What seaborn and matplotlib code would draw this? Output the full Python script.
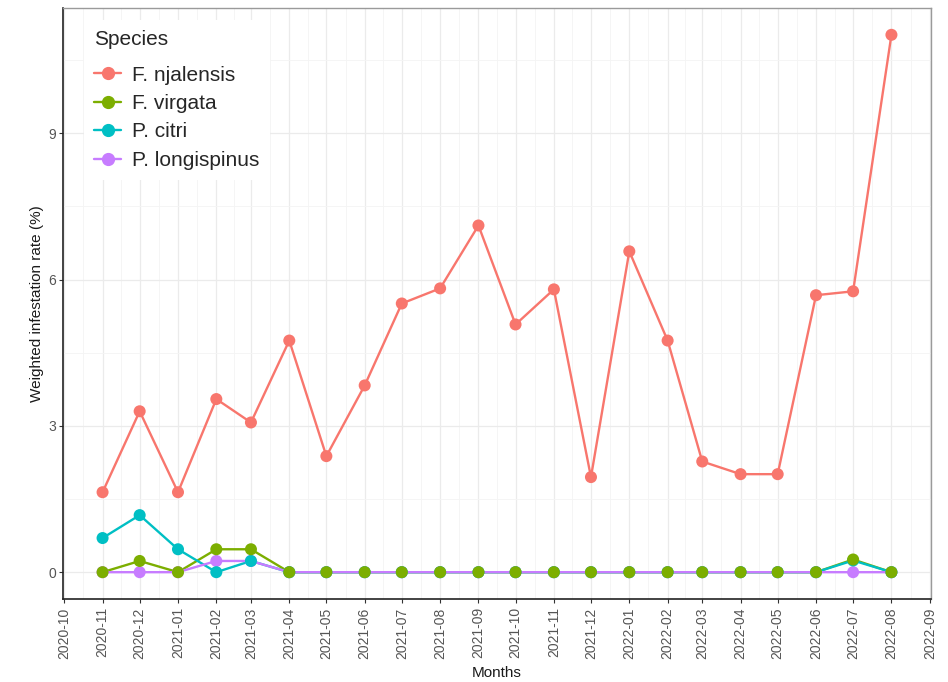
import pandas as pd
import matplotlib
matplotlib.use('Agg')
import matplotlib.pyplot as plt
import matplotlib.dates as mdates
from matplotlib.lines import Line2D
import seaborn as sns

# Datos (tasa de infestación ponderada, %)
meses = pd.date_range('2020-11-01', '2022-08-01', freq='MS')
especies = ['F. njalensis', 'F. virgata', 'P. citri', 'P. longispinus']
colores = ['#F8766D', '#7CAE00', '#00BFC4', '#C77CFF']

njalensis = [1.64, 3.30, 1.64, 3.55, 3.07, 4.75, 2.38, 3.83, 5.51, 5.82, 7.11,
             5.08, 5.80, 1.95, 6.58, 4.75, 2.27, 2.01, 2.01, 5.68, 5.76, 11.02]
virgata = [0, 0.23, 0, 0.47, 0.47] + [0] * 15 + [0.26, 0]
citri = [0.70, 1.17, 0.47, 0, 0.23] + [0] * 15 + [0.24, 0]
longispinus = [0, 0, 0, 0.23, 0.23] + [0] * 17

series = {'F. njalensis': njalensis, 'F. virgata': virgata,
          'P. citri': citri, 'P. longispinus': longispinus}

df = pd.concat([pd.DataFrame({'Months': meses, 'Rate': v, 'Species': k})
                for k, v in series.items()], ignore_index=True)

sns.set_theme(style='white')
plt.rcParams['font.family'] = ['Liberation Sans', 'DejaVu Sans']
paleta = dict(zip(especies, colores))

fig = plt.figure(figsize=(9.48, 6.82), dpi=100)
ax = fig.add_axes([63 / 948, 1 - 599 / 682, (931 - 63) / 948, (599 - 8) / 682])

# Líneas
sns.lineplot(data=df, x='Months', y='Rate', hue='Species', hue_order=especies,
             palette=paleta, linewidth=1.7, ax=ax, legend=False, zorder=3)

# Puntos (F. virgata encima)
orden_puntos = ['F. njalensis', 'P. longispinus', 'P. citri', 'F. virgata']
for sp in orden_puntos:
    sub = df[df['Species'] == sp]
    sns.scatterplot(data=sub, x='Months', y='Rate', color=paleta[sp], s=75,
                    edgecolor='none', ax=ax, legend=False, zorder=4)

# Ejes
ax.set_xlim(pd.Timestamp('2020-09-30'), pd.Timestamp('2022-09-02'))
ax.set_ylim(-0.55, 11.57)
major = pd.date_range('2020-10-01', '2022-09-01', freq='MS')
ax.set_xticks(major)
ax.xaxis.set_major_formatter(mdates.DateFormatter('%Y-%m'))
nums = mdates.date2num(major)
ax.set_xticks((nums[:-1] + nums[1:]) / 2, minor=True)
ax.set_yticks([0, 3, 6, 9])
ax.set_yticks([1.5, 4.5, 7.5, 10.5], minor=True)
ax.set_yticklabels(['0', '3', '6', '9'])

ax.tick_params(axis='x', which='major', rotation=90, labelsize=10,
               labelcolor='#555555', length=3, width=0.8, color='#333333', pad=3)
ax.tick_params(axis='y', which='major', labelsize=10, labelcolor='#555555',
               length=3, width=0.8, color='#333333', pad=2)
ax.tick_params(which='minor', length=0)
ax.tick_params(bottom=True, left=True)

ax.grid(which='major', color='#EBEBEB', linewidth=0.9, zorder=0)
ax.grid(which='minor', color='#F4F4F4', linewidth=0.6, zorder=0)
ax.set_axisbelow(True)

for lado in ['top', 'right']:
    ax.spines[lado].set_color('#9A9A9A')
    ax.spines[lado].set_linewidth(1.0)
for lado in ['left', 'bottom']:
    ax.spines[lado].set_color('#222222')
    ax.spines[lado].set_linewidth(1.2)

ax.set_xlabel('Months', fontsize=11, color='#1A1A1A', labelpad=5)
ax.set_ylabel('Weighted infestation rate (%)', fontsize=11, color='#1A1A1A', labelpad=3)

# Leyenda
manejadores = [Line2D([0], [0], color=c, linewidth=1.7, marker='o', markersize=8.5)
               for c in colores]
leg = ax.legend(manejadores, especies, title='Species', loc='upper left',
                bbox_to_anchor=(0.012, 0.998), frameon=True, fontsize=15,
                title_fontsize=15, handlelength=1.3, handletextpad=0.5,
                labelspacing=0.45, borderpad=0.5)
leg.get_frame().set_facecolor('white')
leg.get_frame().set_edgecolor('none')
leg.get_frame().set_alpha(1)
leg._legend_box.align = 'left'
leg._legend_box.sep = 12

plt.savefig('out.png', dpi=100)
plt.close()
